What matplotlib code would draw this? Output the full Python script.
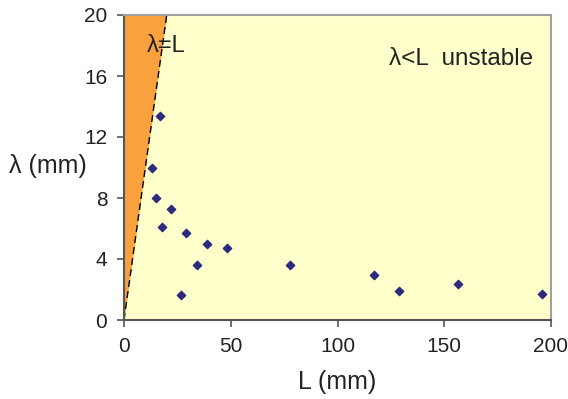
import matplotlib
matplotlib.use("Agg")
import matplotlib.pyplot as plt
import numpy as np

plt.rcParams['font.family'] = ['Liberation Sans', 'DejaVu Sans']

# measured points (L, lambda) in mm
L_mm = [16.9, 13.1, 15.1, 22.2, 17.9, 29.0, 38.7, 48.4, 34.0, 26.5,
        77.9, 117.2, 128.9, 156.3, 195.8]
lam_mm = [13.4, 10.0, 8.0, 7.3, 6.1, 5.7, 4.96, 4.7, 3.6, 1.66,
          3.6, 2.96, 1.88, 2.35, 1.7]

x_ticks = [0, 50, 100, 150, 200]
y_ticks = [0, 4, 8, 12, 16, 20]

fig = plt.figure(figsize=(5.68, 3.99), dpi=100)
ax = fig.add_axes([124 / 568, 1 - 320 / 399, 427 / 568, 305 / 399])

ax.set_facecolor('#FFFFCC')
# lambda > L region (stable side)
line = np.array([0, 20])
ax.fill_between(line, line, 20, color='#F9A13D', linewidth=0, zorder=1)
ax.plot(line, line, color='black', linestyle=(0, (5, 3)), linewidth=1.0, zorder=2)

ax.scatter(L_mm, lam_mm, marker='D', s=18, color='#2B2A7C', zorder=3)

ax.text(20.0, 18.0, 'λ=L', fontsize=17, ha='center', va='center', color='#222222')
ax.text(158, 17.1, 'λ<L  unstable', fontsize=17.5, ha='center', va='center', color='#222222')

ax.set_xlim(0, 200)
ax.set_ylim(0, 20)
ax.set_xticks(x_ticks)
ax.set_yticks(y_ticks)
ax.tick_params(direction='out', length=5, width=1.2, color='#555555',
               labelsize=15, labelcolor='#222222', pad=7)
ax.set_xlabel('L (mm)', fontsize=18, color='#222222', labelpad=10)
ax.set_ylabel('λ (mm)', fontsize=18, color='#222222', rotation=0,
              va='center', ha='center')
ax.yaxis.set_label_coords(-0.178, 0.505)

for s in ['left', 'bottom']:
    ax.spines[s].set_color('#555555')
    ax.spines[s].set_linewidth(1.5)
for s in ['top', 'right']:
    ax.spines[s].set_color('#A0A0A0')
    ax.spines[s].set_linewidth(1.5)

fig.savefig('out.png', dpi=100)
